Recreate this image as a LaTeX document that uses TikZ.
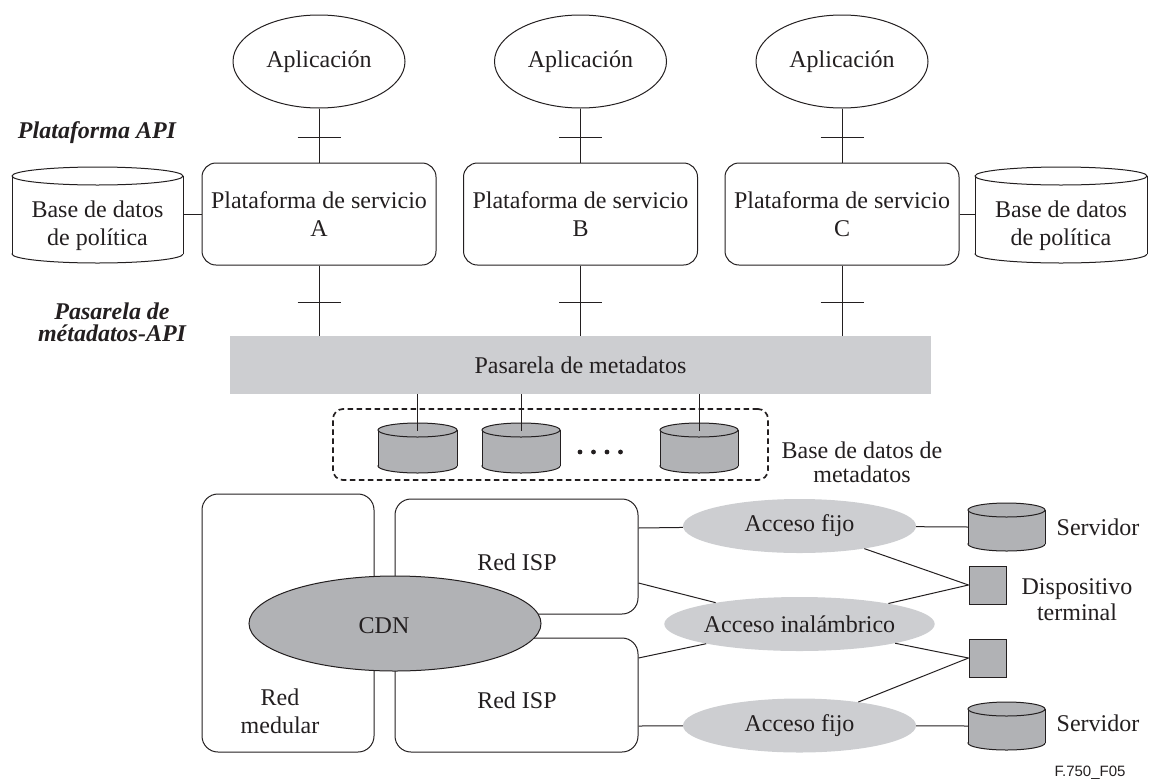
\documentclass[tikz,border=0pt]{standalone}
\usepackage{fontspec}
\setmainfont{Liberation Serif}
\newfontfamily\figsans{Liberation Sans}
\usetikzlibrary{shapes.geometric,decorations.markings}
\definecolor{lightg}{RGB}{205,206,209}
\definecolor{darkg}{RGB}{177,178,181}
\definecolor{ink}{RGB}{35,31,32}
\newcommand\dbdraw[6]{% left, right, top, bottom, ry, fill
  \pgfmathsetmacro\dbcx{(#1+#2)/2}%
  \pgfmathsetmacro\dbrx{(#2-#1)/2}%
  \filldraw[fill=#6, conn] (\dbcx,#4-#5) ellipse[x radius=\dbrx, y radius=#5];
  \fill[#6] (#1,#3+#5) rectangle (#2,#4-#5);
  \draw[conn] (#1,#3+#5) -- (#1,#4-#5) (#2,#3+#5) -- (#2,#4-#5);
  \filldraw[fill=#6, conn] (\dbcx,#3+#5) ellipse[x radius=\dbrx, y radius=#5];
}
\begin{document}
\begin{tikzpicture}[x=1pt,y=-1pt,
  every node/.style={text=ink},
  txt/.style={font=\fontsize{24}{28}\selectfont, align=center, inner sep=0pt},
  conn/.style={draw=ink, line width=1pt},
  app/.style={ellipse, conn, minimum width=172pt, minimum height=93pt, inner sep=0pt, txt},
  plat/.style={rectangle, rounded corners=14pt, conn, minimum width=234pt, minimum height=102pt, txt},
  netbox/.style={rectangle, rounded corners=16pt, conn, inner sep=0pt, txt},
  access/.style={ellipse, fill=lightg, minimum width=233pt, minimum height=54pt, inner sep=0pt, txt},
  device/.style={rectangle, conn, fill=darkg, minimum width=37pt, minimum height=38pt, inner sep=0pt},
  tickat/.style={postaction={decorate, decoration={markings, mark=at position #1 with {\draw[conn] (0,-21.5pt) -- (0,21.5pt);}}}}
]
\useasboundingbox (0,0) rectangle (1159,782);

% applications
\node[app] (app1) at (319,61.5) {Aplicación};
\node[app] (app2) at (580.5,61.5) {Aplicación};
\node[app] (app3) at (842,61.5) {Aplicación};

% service platforms
\node[plat] (platA) at (319,214) {Plataforma de servicio\\A};
\node[plat] (platB) at (580.5,214) {Plataforma de servicio\\B};
\node[plat] (platC) at (842,214) {Plataforma de servicio\\C};

% left labels
\node[txt, font=\fontsize{24}{28}\selectfont\bfseries\itshape] (lblapi) at (97,133) {Plataforma API};
\node[txt, font=\fontsize{24}{22}\selectfont\bfseries\itshape] (lblgw) at (112,322) {Pasarela de\\métadatos-API};

% policy databases
\dbdraw{12}{183}{167}{263}{9}{white}
\node[txt] (polA) at (97.5,226) {Base de datos\\de política};
\coordinate (polAe) at (183,214);
\dbdraw{975}{1147}{167}{263}{9}{white}
\node[txt] (polC) at (1061,226) {Base de datos\\de política};
\coordinate (polCw) at (975,214);
\draw[conn] (polAe) -- (platA.west);
\draw[conn] (platC.east) -- (polCw);

% metadata gateway
\node[rectangle, fill=lightg, minimum width=701pt, minimum height=58pt, txt] (gw) at (580.5,365) {Pasarela de metadatos};

% app - platform - gateway connectors
\foreach \i/\p in {1/A,2/B,3/C}{
  \draw[conn, tickat=0.545] (app\i.south) -- (plat\p.north);
  \draw[conn, tickat=0.52] (plat\p.south) -- (plat\p.south |- gw.north);
}

% metadata databases
\node[rectangle, rounded corners=10pt, draw=ink, line width=1.7pt, dash pattern=on 5.5pt off 3.5pt, minimum width=435pt, minimum height=71pt] (mdb) at (550.5,444.5) {};
\dbdraw{378}{457}{423}{473}{7}{darkg}
\dbdraw{482}{560}{423}{473}{7}{darkg}
\dbdraw{660}{738}{423}{473}{7}{darkg}
\coordinate (m1t) at (417.5,431);
\coordinate (m2t) at (521,431);
\coordinate (m3t) at (699,431);
\foreach \m in {m1t,m2t,m3t}{\draw[conn] (\m |- gw.south) -- (\m);}
\foreach \dx in {580,593.5,607,620.5}{\fill[ink] (\dx,452) circle[radius=2.4];}
\node[txt, font=\fontsize{24}{24}\selectfont] (mdblbl) at (862,462) {Base de datos de\\metadatos};

% networks
\node[netbox, minimum width=172pt, minimum height=258pt] (core) at (288,623) {};
\node[txt] (coretxt) at (280,711) {Red\\medular};
\node[netbox, minimum width=243pt, minimum height=115pt] (isp1) at (516.5,556.5) {};
\node[txt] (isp1txt) at (517,562) {Red ISP};
\node[netbox, minimum width=243pt, minimum height=114pt] (isp2) at (516.5,695) {};
\node[txt] (isp2txt) at (517,700) {Red ISP};
\node[ellipse, conn, fill=darkg, minimum width=292pt, minimum height=95pt, inner sep=0pt] (cdn) at (395,623.5) {};
\node[txt] (cdntxt) at (384,626) {CDN};

% access networks
\node[access] (af1) at (799.5,526) {Acceso fijo};
\node[access] (ai) at (799.5,624) {Acceso inalámbrico};
\node[access] (af2) at (799.5,725.5) {Acceso fijo};

% servers and devices
\dbdraw{968}{1045}{503}{551}{7}{darkg}
\coordinate (srv1w) at (968,527);
\node[txt] (srv1) at (1098,527) {Servidor};
\dbdraw{968}{1045}{702}{750}{7}{darkg}
\coordinate (srv2w) at (968,726);
\node[txt] (srv2) at (1098,723) {Servidor};
\node[device] (dev1) at (987.5,585) {};
\node[device] (dev2) at (987.5,658) {};
\node[txt, font=\fontsize{24}{26}\selectfont] (devtxt) at (1077,600) {Dispositivo\\terminal};

% connections
\draw[conn] ([yshift=28.5pt]isp1.east) -- (af1);
\draw[conn] ([yshift=-26.5pt]isp1.east) -- (ai);
\draw[conn] ([yshift=37pt]isp2.east) -- (ai);
\draw[conn] ([yshift=-31pt]isp2.east) -- (af2);
\draw[conn] (af1) -- (srv1w);
\draw[conn] (af2) -- (srv2w);
\draw[conn] (af1) -- (dev1.west);
\draw[conn] (ai) -- (dev1.west);
\draw[conn] (ai) -- (dev2.west);
\draw[conn] (af2) -- (dev2.west);

\node[inner sep=0pt, font=\figsans\fontsize{15}{18}\selectfont] (figid) at (1090,773) {F.750\_F05};
\end{tikzpicture}
\end{document}
